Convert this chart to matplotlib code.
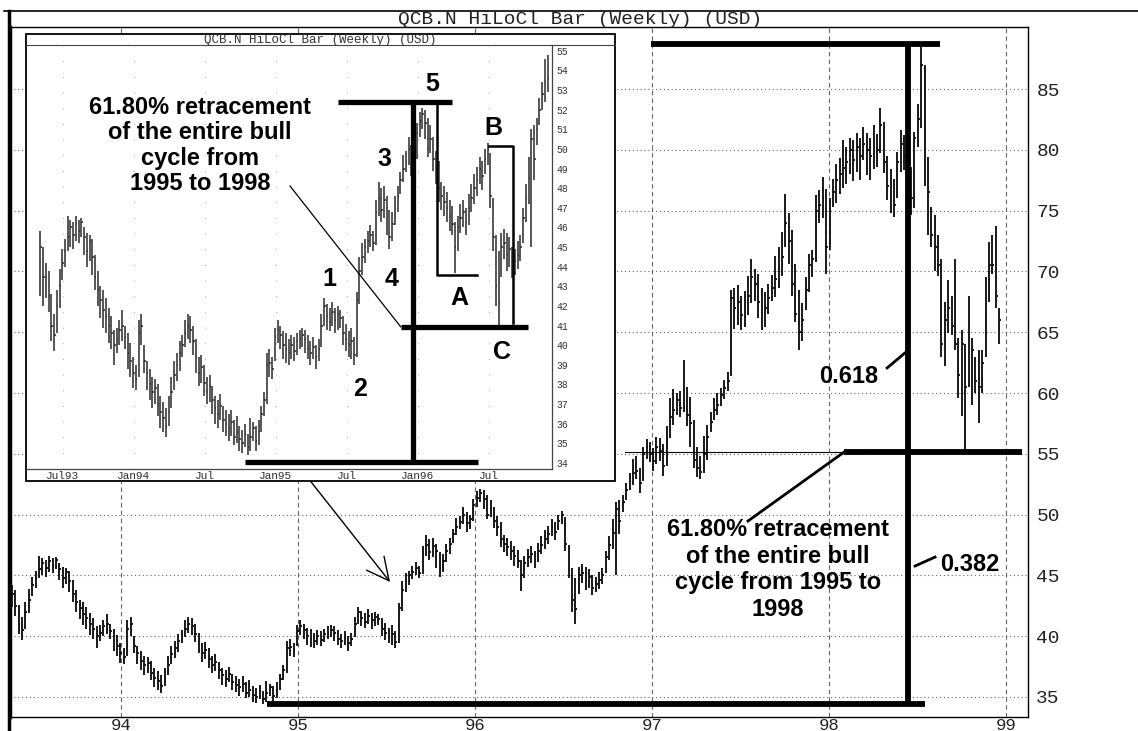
import numpy as np
import pandas as pd
import matplotlib
matplotlib.use("Agg")
import matplotlib.pyplot as plt
from matplotlib.patches import Rectangle
from matplotlib.lines import Line2D

W, H, DPI = 1138, 731, 100

# weekly high / low / close, starting the week of 7 May 1993
highs = [45.8,
    45.0, 44.2, 43.8, 42.6, 41.6, 42.8, 43.9, 44.9, 45.4, 46.6,
    46.4, 46.3, 46.6, 46.4, 46.5, 46.0, 45.7, 45.6, 45.4, 44.6,
    43.8, 43.0, 42.8, 42.4, 41.9, 41.5, 40.8, 40.9, 41.3, 41.8,
    41.0, 40.6, 40.1, 39.4, 39.0, 41.3, 41.6, 40.0, 39.2, 38.8,
    38.4, 38.3, 38.0, 37.4, 37.1, 36.8, 37.4, 38.4, 39.2, 39.6,
    40.2, 40.5, 41.3, 41.6, 41.5, 41.0, 40.3, 39.4, 39.5, 39.0,
    38.4, 38.5, 37.9, 37.4, 37.2, 37.5, 36.9, 36.7, 36.5, 36.7,
    36.2, 36.4, 35.9, 35.7, 36.0, 35.5, 36.3, 36.1, 35.9, 36.2,
    36.9, 37.6, 39.6, 39.8, 39.4, 40.9, 41.3, 41.0, 40.7, 40.6,
    40.3, 40.5, 40.4, 40.6, 40.8, 40.9, 40.8, 40.5, 40.2, 40.4,
    40.0, 40.3, 41.6, 42.4, 42.1, 41.9, 42.2, 41.9, 42.0, 41.8,
    41.5, 41.1, 40.7, 40.9, 40.4, 42.7, 44.5, 45.2, 45.4, 45.8,
    46.1, 45.8, 47.4, 48.3, 48.0, 48.1, 47.6, 46.9, 46.8, 47.6,
    48.1, 48.8, 49.7, 49.9, 50.6, 50.2, 50.0, 51.3, 51.9, 52.1,
    52.0, 51.6, 51.2, 50.6, 49.9, 49.4, 48.3, 48.1, 47.8, 47.4,
    47.1, 46.3, 46.6, 47.2, 47.4, 47.0, 47.7, 48.2, 48.7, 49.1,
    49.6, 49.4, 50.0, 50.3, 49.8, 47.5, 45.6, 44.8, 45.7, 45.9,
    45.7, 45.5, 45.0, 44.9, 45.3, 45.6, 47.0, 48.2, 49.6, 51.0,
    51.2, 51.6, 52.6, 53.4, 54.6, 54.8, 53.8, 55.6, 56.2, 56.0,
    55.5, 56.4, 56.3, 55.8, 57.3, 59.6, 60.3, 60.0, 60.2, 62.7,
    60.5, 59.7, 57.8, 55.6, 54.8, 56.5, 57.4, 58.4, 59.6, 60.0,
    60.4, 61.1, 61.7, 68.5, 68.6, 68.9, 68.0, 68.4, 69.6, 71.0,
    70.2, 69.8, 68.6, 68.3, 69.0, 69.7, 71.3, 72.0, 73.2, 76.4,
    74.8, 73.4, 70.6, 68.5, 67.4, 69.5, 71.4, 71.8, 76.3, 76.7,
    77.8, 76.8, 76.0, 77.6, 78.8, 79.3, 80.8, 80.2, 81.0, 80.8,
    81.4, 81.0, 81.9, 81.4, 81.0, 82.0, 81.3, 83.4, 82.3, 79.5,
    78.4, 77.6, 79.8, 81.6, 81.2, 80.0, 78.6, 81.5, 83.8, 88.7,
    87.0, 79.4, 75.3, 74.6, 73.0, 71.0, 67.5, 69.3, 68.0, 71.0,
    64.5, 65.2, 64.0, 68.0, 64.5, 63.0, 63.5, 63.5, 69.5, 72.4,
    73.0, 73.7, 67.0]

lows = [42.5,
    42.0, 42.4, 41.7, 40.2, 39.7, 40.6, 41.9, 43.3, 44.0, 44.8,
    45.0, 44.9, 45.3, 45.2, 45.5, 44.6, 44.0, 44.3, 43.6, 42.8,
    42.0, 41.4, 40.9, 40.6, 40.1, 39.8, 39.0, 39.6, 40.0, 40.2,
    39.8, 38.8, 38.4, 37.8, 37.7, 38.4, 40.0, 38.6, 37.7, 37.2,
    36.8, 37.0, 36.4, 35.8, 35.6, 35.3, 35.9, 36.8, 37.7, 38.2,
    38.7, 39.4, 39.9, 40.3, 40.1, 39.5, 38.6, 37.9, 38.1, 37.4,
    37.0, 37.1, 36.5, 36.0, 35.8, 36.2, 35.6, 35.4, 35.1, 35.4,
    34.9, 35.0, 34.6, 34.5, 34.8, 34.4, 34.6, 35.1, 34.6, 34.9,
    35.6, 36.4, 37.0, 38.4, 38.3, 39.2, 40.1, 39.8, 39.3, 39.1,
    39.0, 39.3, 39.2, 39.5, 39.8, 39.9, 39.6, 39.3, 39.0, 39.3,
    38.8, 39.2, 39.9, 41.0, 40.8, 40.7, 41.0, 40.6, 40.8, 40.9,
    40.0, 39.7, 39.4, 39.3, 39.0, 39.4, 42.1, 43.6, 44.2, 44.7,
    45.0, 44.8, 45.1, 46.6, 46.3, 46.5, 45.6, 44.9, 45.3, 46.1,
    46.8, 47.7, 48.3, 48.8, 49.2, 48.6, 48.8, 49.5, 50.6, 51.0,
    50.5, 49.6, 49.8, 48.9, 48.2, 47.3, 46.9, 46.6, 46.3, 45.8,
    45.6, 43.7, 44.8, 45.7, 46.0, 45.6, 46.1, 46.8, 47.2, 47.6,
    48.2, 47.9, 48.7, 49.2, 47.0, 44.8, 42.0, 41.0, 43.5, 44.4,
    43.8, 44.0, 43.4, 43.6, 43.9, 44.3, 45.2, 46.3, 47.2, 45.0,
    48.4, 50.2, 51.2, 52.0, 52.4, 52.9, 51.8, 52.8, 54.6, 54.3,
    53.6, 54.2, 54.4, 53.2, 54.0, 56.3, 57.4, 58.2, 58.0, 58.4,
    57.3, 55.6, 53.8, 53.1, 52.9, 53.4, 54.5, 56.8, 57.8, 58.2,
    58.9, 59.5, 60.2, 61.4, 65.3, 65.6, 65.2, 65.4, 66.4, 67.4,
    67.6, 66.2, 65.2, 65.4, 66.5, 67.6, 67.9, 68.6, 69.6, 72.0,
    70.6, 68.0, 65.8, 63.5, 64.3, 66.8, 68.3, 69.5, 70.8, 74.0,
    74.4, 69.8, 71.8, 75.3, 75.6, 76.4, 76.9, 77.2, 78.0, 77.4,
    78.2, 77.5, 79.2, 77.9, 77.5, 78.4, 78.6, 79.7, 78.1, 75.9,
    74.8, 74.5, 76.0, 78.2, 78.3, 75.6, 74.6, 75.2, 80.2, 81.8,
    77.0, 73.0, 72.0, 70.0, 69.6, 63.0, 62.2, 64.9, 64.8, 63.5,
    59.6, 58.1, 55.3, 60.5, 59.0, 60.0, 57.5, 60.0, 63.0, 67.5,
    69.8, 67.0, 64.0]

closes = [45.0,
    43.5, 43.5, 42.5, 41.0, 40.5, 42.0, 43.0, 44.2, 44.8, 45.5,
    46.0, 45.6, 46.2, 45.8, 46.3, 45.5, 44.8, 45.3, 44.5, 43.5,
    42.8, 42.3, 41.8, 41.5, 41.0, 40.6, 40.0, 40.3, 40.8, 41.0,
    40.4, 39.6, 39.2, 38.6, 38.3, 40.6, 41.0, 39.2, 38.6, 38.0,
    37.6, 37.8, 37.0, 36.6, 36.3, 35.9, 36.6, 37.6, 38.5, 39.0,
    39.6, 40.0, 40.6, 41.0, 40.8, 40.2, 39.4, 38.6, 38.9, 38.1,
    37.6, 37.9, 37.2, 36.8, 36.5, 36.9, 36.2, 36.0, 35.8, 36.1,
    35.3, 35.6, 35.2, 35.0, 35.5, 34.8, 35.3, 35.8, 35.1, 35.6,
    36.5, 37.2, 39.0, 39.1, 38.8, 40.4, 40.8, 40.5, 40.0, 39.8,
    39.6, 40.0, 39.7, 40.2, 40.3, 40.5, 40.3, 39.8, 39.6, 39.9,
    39.4, 39.8, 41.0, 42.0, 41.5, 41.2, 41.7, 41.3, 41.6, 41.4,
    40.6, 40.3, 40.0, 40.2, 39.5, 42.3, 43.8, 44.5, 45.0, 45.3,
    45.6, 45.2, 46.8, 47.5, 46.9, 47.4, 47.0, 45.5, 46.2, 47.0,
    47.6, 48.4, 49.0, 49.4, 50.0, 49.3, 49.6, 50.8, 51.4, 51.8,
    51.3, 50.0, 50.5, 49.5, 49.0, 48.0, 47.6, 47.3, 47.0, 46.6,
    46.2, 45.0, 46.0, 46.5, 46.8, 46.3, 47.0, 47.5, 48.0, 48.4,
    49.0, 48.6, 49.5, 50.0, 47.6, 45.5, 43.0, 42.2, 45.0, 45.2,
    44.6, 44.9, 44.0, 44.3, 44.6, 45.0, 46.5, 47.5, 48.5, 50.5,
    49.5, 51.0, 52.0, 52.8, 53.4, 53.6, 52.6, 55.0, 55.6, 55.0,
    54.4, 55.6, 55.2, 54.0, 56.5, 58.0, 58.6, 59.4, 58.8, 61.5,
    58.2, 57.5, 54.5, 53.8, 53.5, 55.0, 56.4, 57.6, 58.6, 59.0,
    59.8, 60.4, 61.0, 67.8, 67.0, 67.5, 66.4, 67.2, 68.0, 69.5,
    69.0, 67.5, 66.4, 67.0, 67.8, 68.6, 69.4, 70.4, 71.2, 74.0,
    72.5, 69.0, 66.5, 65.0, 66.0, 68.5, 70.5, 71.0, 75.0, 75.5,
    76.0, 72.0, 75.0, 76.5, 77.5, 78.0, 78.5, 79.0, 80.0, 79.2,
    80.2, 79.5, 80.5, 80.0, 79.5, 80.5, 80.0, 82.0, 79.0, 77.0,
    76.0, 75.5, 79.0, 80.5, 79.5, 77.0, 76.0, 81.0, 82.5, 87.0,
    80.0, 76.5, 73.0, 72.0, 70.5, 64.0, 66.0, 67.0, 65.5, 64.0,
    61.5, 64.0, 60.5, 61.0, 63.5, 61.0, 60.5, 62.5, 66.0, 70.5,
    70.5, 68.0, 66.0]

year_ticks = [94, 95, 96, 97, 98, 99]
year_labels = ["94", "95", "96", "97", "98", "99"]
price_ticks = [35, 40, 45, 50, 55, 60, 65, 70, 75, 80, 85]

inset_ticks = [93.5, 94.0, 94.5, 95.0, 95.5, 96.0, 96.5]
inset_labels = ["Jul93", "Jan94", "Jul", "Jan95", "Jul", "Jan96", "Jul"]
inset_price_ticks = list(range(34, 56))
inset_last_week = 96.92

TITLE = "QCB.N HiLoCl Bar (Weekly) (USD)"
NOTE_INSET = "61.80% retracement\nof the entire bull\ncycle from\n1995 to 1998"
NOTE_MAIN = "61.80% retracement\nof the entire bull\ncycle from 1995 to\n1998"

# week dates -> two-digit fractional years (94.0 = 1 Jan 1994)
dates = pd.date_range("1993-05-07", periods=len(closes), freq="W-FRI")
t = np.asarray(dates.year - 1900 + (dates.dayofyear - 1) / 365.25, dtype=float)
hi = np.array(highs)
lo = np.array(lows)
cl = np.array(closes)

MONO = "Liberation Mono"
BOLD = dict(family="Liberation Sans", weight="bold", color="k")


def fx(px):
    return px / W


def fy(py):
    return 1 - py / H


def draw_bars(ax, x, h, l, c, color, lw):
    tick = 0.55 / 52
    ax.vlines(x, l, h, colors=color, linewidth=lw, zorder=3)
    ax.hlines(c, x, x + tick, colors=color, linewidth=lw, zorder=3)


fig = plt.figure(figsize=(W / DPI, H / DPI), dpi=DPI)
fig.patch.set_facecolor("white")

# ---- main weekly chart ----
ax = fig.add_axes([fx(10), fy(717), fx(1028) - fx(10), fy(27) - fy(717)], zorder=0)
ax.set_xlim(93.373, 99.124)
ax.set_ylim(33.355, 90.1)
draw_bars(ax, t, hi, lo, cl, "#111111", 1.35)

ax.set_xticks(year_ticks)
ax.set_xticklabels(year_labels, fontfamily=MONO, fontsize=12.5, color="#222")
ax.tick_params(axis="x", length=0, pad=0.5)
ax.yaxis.tick_right()
ax.set_yticks(price_ticks)
ax.set_yticklabels([str(v) for v in price_ticks], fontfamily=MONO, fontsize=14, color="#222")
ax.tick_params(axis="y", length=0, pad=6)
ax.grid(axis="y", linestyle=(0, (1, 2.5)), color="#666", linewidth=0.8)
ax.grid(axis="x", linestyle=(0, (4, 3)), color="#666", linewidth=0.8)
ax.set_axisbelow(True)
for side, w in (("left", 2.5), ("right", 1.0), ("top", 1.0), ("bottom", 1.0)):
    ax.spines[side].set_linewidth(w)

# Fibonacci construction on the 1995-1998 bull cycle
peak = hi.max()
trough = lo[(t > 94.5) & (t < 95.5)].min()
fib = peak - 0.618 * (peak - trough)
t_peak_line = 98.446

thick = dict(color="k", linewidth=4.2, solid_capstyle="butt", zorder=5)
ax.plot([96.994, 98.627], [peak, peak], **thick)
ax.plot([t_peak_line, t_peak_line], [peak, trough], **thick)
ax.plot([94.825, 98.542], [trough, trough], **thick)
ax.plot([98.085, 99.09], [fib, fib], **thick)
ax.plot([96.85, 98.085], [fib, fib], color="k", linewidth=0.8, zorder=4)
ax.plot([97.542, 98.085], [49.47, fib], color="k", linewidth=2, zorder=5)
ax.plot([98.328, 98.435], [62.06, 63.37], color="k", linewidth=2, zorder=5)
ax.plot([98.486, 98.599], [45.77, 46.51], color="k", linewidth=2, zorder=5)

ax.text(98.113, 61.32, "0.618", fontsize=17, ha="center", va="center", zorder=6, **BOLD)
ax.text(98.797, 45.86, "0.382", fontsize=17, ha="center", va="center", zorder=6, **BOLD)
ax.text(97.712, 45.5, NOTE_MAIN, fontsize=17, ha="center", va="center",
        linespacing=1.2, zorder=6, **BOLD)
ax.annotate("", xy=(95.52, 44.46), xytext=(95.07, 52.76),
            arrowprops=dict(arrowstyle="->,head_length=0.8,head_width=0.4",
                            mutation_scale=20, color="k", linewidth=1.0,
                            shrinkA=0, shrinkB=0), zorder=6)

# ---- outer frame and title ----
fig.add_artist(Line2D([fx(4), 1.0], [fy(11), fy(11)], color="k", linewidth=1.2,
                      transform=fig.transFigure))
fig.add_artist(Line2D([fx(9), fx(9)], [fy(11), 0.0], color="k", linewidth=2.5,
                      transform=fig.transFigure))
fig.text(fx(580), fy(19.5), TITLE, fontfamily=MONO, fontsize=14, color="#222",
         ha="center", va="center")

# ---- inset: Jul 1993 - Nov 1996 ----
box = Rectangle((fx(25.7), fy(481)), fx(615) - fx(25.7), fy(34) - fy(481),
                transform=fig.transFigure, facecolor="white", edgecolor="k",
                linewidth=1.3, zorder=1)
fig.add_artist(box)
fig.add_artist(Line2D([fx(25.7), fx(615)], [fy(45), fy(45)], color="#444", linewidth=0.8,
                      transform=fig.transFigure, zorder=1.5))
fig.text(fx(320), fy(40), TITLE, fontfamily=MONO, fontsize=9, color="#333",
         ha="center", va="center", zorder=3)

axi = fig.add_axes([fx(25.7), fy(469), fx(552) - fx(25.7), fy(45) - fy(469)], zorder=2)
axi.set_facecolor("none")
axi.set_xlim(93.2412, 96.9424)
axi.set_ylim(33.694, 55.294)
keep = t <= inset_last_week
draw_bars(axi, t[keep], hi[keep], lo[keep], cl[keep], "#2a2a2a", 1.1)

axi.set_xticks(inset_ticks)
axi.set_xticklabels(inset_labels, fontfamily=MONO, fontsize=8, color="#333")
axi.tick_params(axis="x", length=0, pad=1.5)
axi.yaxis.tick_right()
axi.set_yticks(inset_price_ticks)
axi.set_yticklabels([str(v) for v in inset_price_ticks], fontfamily=MONO, fontsize=7,
                    color="#333")
axi.tick_params(axis="y", length=0, pad=3)
axi.grid(axis="x", linestyle=(0, (0.7, 13.4)), color="#999", linewidth=0.8)
axi.set_axisbelow(True)
axi.spines["top"].set_visible(False)
axi.spines["left"].set_visible(False)
axi.spines["right"].set_linewidth(0.9)
axi.spines["bottom"].set_linewidth(0.9)
axi.spines["right"].set_color("#444")
axi.spines["bottom"].set_color("#444")

# Elliott wave count and the 61.8% retracement of the 1995 rally
ithick = dict(color="k", linewidth=3.8, solid_capstyle="butt", zorder=5)
axi.plot([95.437, 96.239], [52.39, 52.39], **ithick)
axi.plot([95.965, 95.965], [52.29, 34.05], **ithick)
axi.plot([94.783, 96.422], [34.05, 34.05], **ithick)
axi.plot([95.878, 96.774], [40.94, 40.94], **ithick)
bracket = dict(color="k", linewidth=1.8, zorder=5)
axi.plot([96.137, 96.137, 96.418], [52.24, 43.58, 43.58], **bracket)
axi.plot([96.499, 96.668, 96.668], [50.15, 50.15, 41.13], **bracket)
axi.plot([95.1, 95.878], [48.11, 40.94], color="k", linewidth=0.9, zorder=5)

axi.text(94.467, 50.17, NOTE_INSET, fontsize=17, ha="center", va="center",
         linespacing=1.13, zorder=6, **BOLD)
wave_labels = ["5", "3", "1", "4", "2", "A", "B", "C"]
wave_t = [96.098, 95.761, 95.374, 95.817, 95.592, 96.288, 96.527, 96.59]
wave_v = [53.31, 49.49, 43.37, 43.37, 37.77, 42.41, 51.07, 39.65]
for s, x, y in zip(wave_labels, wave_t, wave_v):
    axi.text(x, y, s, fontsize=18, ha="center", va="center", zorder=6, **BOLD)

fig.savefig("out.png", dpi=DPI, facecolor="white")
